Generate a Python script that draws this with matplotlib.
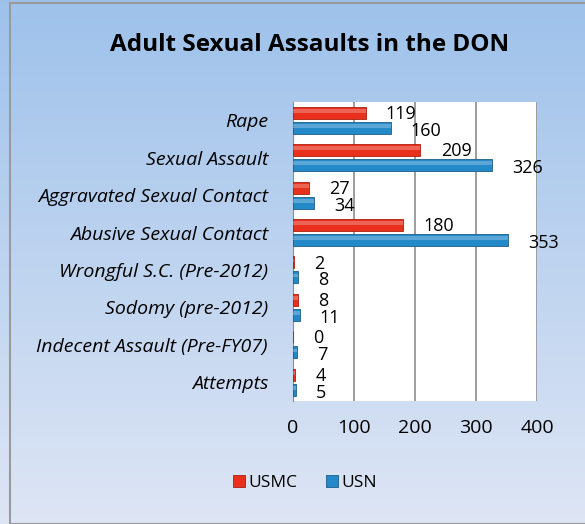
import matplotlib.pyplot as plt
import numpy as np
from matplotlib.patches import Rectangle

categories = ["Rape", "Sexual Assault", "Aggravated Sexual Contact", "Abusive Sexual Contact",
              "Wrongful S.C. (Pre-2012)", "Sodomy (pre-2012)", "Indecent Assault (Pre-FY07)", "Attempts"]
usmc = [119, 209, 27, 180, 2, 8, 0, 4]
usn = [160, 326, 34, 353, 8, 11, 7, 5]
xticks = [0, 100, 200, 300, 400]

red = "#E8301C"
blue = "#2389C9"

fig = plt.figure(figsize=(5.85, 5.24), dpi=100)

# background gradient
bg = fig.add_axes([0, 0, 1, 1], zorder=0)
grad = np.linspace(0, 1, 256).reshape(-1, 1)
top = np.array([0.62, 0.76, 0.92])
bot = np.array([0.87, 0.90, 0.96])
img = top + (bot - top) * grad[:, :, None]
bg.imshow(img, aspect="auto", extent=[0, 1, 0, 1])
bg.add_patch(Rectangle((10 / 585, 0), 1, 1 - 3 / 524, fill=False, edgecolor="#9a9a9a", lw=1.5))
bg.set_xlim(0, 1)
bg.set_ylim(0, 1)
bg.axis("off")

ax = fig.add_axes([293 / 585, 1 - 401 / 524, 244 / 585, 299.5 / 524], zorder=1)
y = np.arange(len(categories))
h = 0.32
ax.barh(y - 0.2, usmc, height=h, color=red, edgecolor="#a8200f", lw=0.6, label="USMC", zorder=3)
ax.barh(y + 0.2, usn, height=h, color=blue, edgecolor="#1c5f8a", lw=0.6, label="USN", zorder=3)
# light stripe for the shiny look
ax.barh(y - 0.25, usmc, height=h * 0.3, color="white", alpha=0.25, lw=0, zorder=4)
ax.barh(y + 0.15, usn, height=h * 0.3, color="white", alpha=0.25, lw=0, zorder=4)

for i in range(len(categories)):
    ax.annotate(str(usmc[i]), (usmc[i], y[i] - 0.17), xytext=(14.5, 0), textcoords="offset points",
                va="center", ha="left", fontsize=13, family="Open Sans")
    ax.annotate(str(usn[i]), (usn[i], y[i] + 0.28), xytext=(14.5, 0), textcoords="offset points",
                va="center", ha="left", fontsize=13, family="Open Sans")

ax.set_xlim(0, 400)
ax.set_ylim(len(categories) - 0.5, -0.5)
ax.set_xticks(xticks)
ax.set_xticklabels([str(t) for t in xticks], fontsize=14, family="Open Sans")
ax.set_yticks(y)
ax.set_yticklabels(categories, fontsize=14, style="italic", family="Open Sans")
ax.tick_params(length=0, pad=18, axis="y")
ax.tick_params(length=0, pad=13, axis="x")
ax.grid(axis="x", color="#8c8c8c", lw=1.2, zorder=1)
for s in ["top", "right", "bottom"]:
    ax.spines[s].set_visible(False)
ax.spines["left"].set_color("#8c8c8c")
ax.set_facecolor("white")

fig.text(310 / 585, 1 - 45 / 524, "Adult Sexual Assaults in the DON", ha="center", va="center",
         fontsize=17.5, fontweight="bold", family="Open Sans")
fig.legend(loc="center", bbox_to_anchor=(305 / 585, 1 - 483 / 524), ncol=2, frameon=False,
           prop={"family": "Open Sans", "size": 12.5}, handlelength=0.7, handleheight=0.7,
           handletextpad=0.2, columnspacing=1.6)

fig.savefig("out.png", dpi=100)
